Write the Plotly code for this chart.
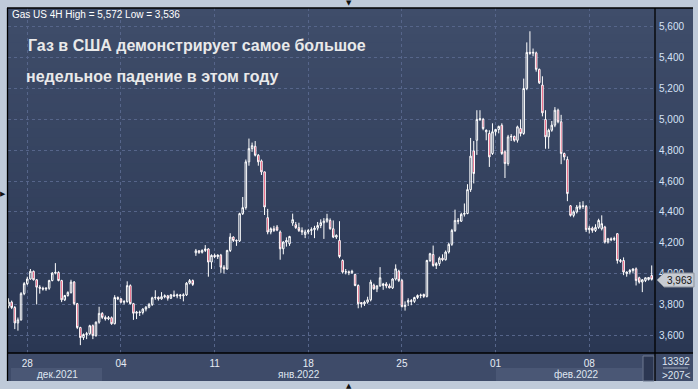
import plotly.graph_objects as go

# ---------------- data (4H candles) ----------------
OPEN = [3790, 3815, 3780, 3680, 3700, 3870, 3935, 3965, 4015, 3960,
        3912, 3905, 3900, 3905, 3955, 4003, 4008, 3955, 3830, 3858,
        3878, 3945, 3805, 3650, 3585, 3605, 3610, 3662, 3598, 3685,
        3742, 3716, 3706, 3714, 3675, 3845, 3836, 3815, 3818, 3922,
        3805, 3743, 3750, 3748, 3770, 3782, 3800, 3843, 3846, 3836,
        3850, 3856, 3840, 3862, 3855, 3862, 3856, 3862, 3938, 3955,
        4135, 4148, 4138, 4150, 4160, 4075, 4118, 4110, 4120, 4042,
        4030, 4150, 4237, 4215, 4212, 4389, 4428, 4725, 4811, 4826,
        4768, 4731, 4660, 4363, 4270, 4291, 4302, 4270, 4161, 4205,
        4194, 4328, 4317, 4298, 4280, 4254, 4270, 4280, 4285, 4295,
        4312, 4330, 4340, 4345, 4291, 4237, 4215, 4085, 4010, 4012,
        4006, 3994, 3923, 3812, 3804, 3815, 3830, 3925, 3901, 3920,
        3923, 3933, 3920, 3907, 3965, 4016, 3955, 3786, 3815, 3825,
        3820, 3845, 3858, 3865, 3852, 4085, 4124, 4053, 4065, 4100,
        4090, 4140, 4190, 4280, 4345, 4340, 4385, 4390, 4545, 4796,
        4865, 5000, 5000, 4920, 4909, 4779, 4920, 4935, 4962, 4790,
        4714, 4887, 4890, 4865, 4941, 4909, 5201, 5435, 5430, 5432,
        5325, 5223, 5000, 4887, 4930, 4963, 5060, 4985, 4779, 4740,
        4440, 4378, 4400, 4425, 4440, 4436, 4285, 4295, 4280, 4300,
        4291, 4302, 4205, 4226, 4222, 4259, 4085, 4085, 4000, 4010,
        4020, 4031, 3973, 3945, 3955, 3962, 3988]
HIGH = [3840, 3825, 3790, 3715, 3880, 3945, 3980, 4030, 4020, 3965,
        3925, 3915, 3912, 3960, 4010, 4068, 4015, 3960, 3862, 3885,
        3960, 3952, 3810, 3655, 3612, 3622, 3668, 3670, 3690, 3785,
        3750, 3728, 3725, 3722, 3860, 3852, 3842, 3828, 3950, 3930,
        3810, 3758, 3760, 3775, 3790, 3810, 3850, 3892, 3852, 3880,
        3865, 3862, 3868, 3890, 3870, 3868, 3872, 3945, 3965, 3962,
        4160, 4152, 4158, 4185, 4165, 4125, 4130, 4125, 4128, 4055,
        4155, 4262, 4242, 4222, 4395, 4497, 4740, 4876, 4850, 4860,
        4775, 4740, 4662, 4420, 4300, 4310, 4315, 4280, 4210, 4235,
        4245, 4389, 4335, 4330, 4300, 4285, 4290, 4300, 4310, 4335,
        4352, 4360, 4388, 4358, 4345, 4255, 4340, 4092, 4030, 4020,
        4025, 4000, 3930, 3815, 3825, 3850, 3960, 3935, 3925, 4042,
        3940, 3945, 3935, 3970, 4060, 4025, 3965, 3820, 3840, 3835,
        3850, 3865, 3870, 3870, 4090, 4135, 4182, 4075, 4110, 4125,
        4150, 4200, 4290, 4415, 4360, 4395, 4455, 4580, 4880, 4860,
        5060, 5060, 5010, 4935, 4930, 4975, 4935, 4960, 4975, 4800,
        4900, 4905, 4895, 4960, 5000, 5265, 5500, 5572, 5460, 5440,
        5330, 5280, 5060, 4940, 4990, 5080, 5070, 5030, 4785, 4760,
        4445, 4410, 4445, 4465, 4470, 4445, 4310, 4305, 4320, 4356,
        4378, 4310, 4232, 4235, 4240, 4262, 4095, 4105, 4015, 4030,
        4035, 4040, 3980, 3965, 3975, 3978, 4053]
LOW = [3775, 3770, 3640, 3630, 3695, 3860, 3925, 3960, 3955, 3800,
       3870, 3890, 3888, 3895, 3950, 3995, 3950, 3815, 3822, 3850,
       3870, 3795, 3640, 3536, 3570, 3575, 3600, 3575, 3590, 3675,
       3705, 3695, 3698, 3668, 3670, 3828, 3808, 3800, 3812, 3800,
       3700, 3705, 3725, 3735, 3755, 3775, 3790, 3830, 3825, 3830,
       3840, 3825, 3835, 3850, 3840, 3835, 3820, 3855, 3930, 3920,
       4115, 4128, 4130, 4140, 3980, 4030, 4100, 4095, 4005, 4000,
       4025, 4140, 4205, 4180, 4205, 4380, 4415, 4700, 4790, 4760,
       4700, 4640, 4380, 4255, 4255, 4270, 4275, 4090, 4125, 4175,
       4180, 4310, 4290, 4270, 4250, 4230, 4255, 4250, 4230, 4280,
       4295, 4225, 4330, 4285, 4230, 4225, 4100, 4000, 3995, 3990,
       3998, 3918, 3775, 3780, 3790, 3805, 3820, 3895, 3880, 3915,
       3895, 3905, 3905, 3900, 3955, 3945, 3780, 3760, 3790, 3795,
       3810, 3835, 3840, 3842, 3845, 4075, 4045, 4030, 4050, 4080,
       4085, 4130, 4180, 4270, 4320, 4335, 4370, 4385, 4530, 4585,
       4770, 4990, 4930, 4865, 4692, 4770, 4895, 4910, 4770, 4620,
       4700, 4860, 4855, 4850, 4890, 4900, 5190, 5420, 5410, 5310,
       5230, 5020, 4810, 4810, 4920, 4950, 4975, 4710, 4735, 4470,
       4370, 4365, 4390, 4415, 4420, 4270, 4260, 4265, 4270, 4290,
       4280, 4195, 4195, 4210, 4212, 4065, 4070, 3990, 3980, 3995,
       4005, 3923, 3935, 3880, 3945, 3955, 3955]
CLOSE = [3815, 3780, 3680, 3700, 3870, 3935, 3965, 4015, 3960, 3912,
         3905, 3900, 3905, 3955, 4003, 4008, 3955, 3830, 3858, 3878,
         3945, 3805, 3650, 3585, 3605, 3610, 3662, 3598, 3685, 3742,
         3716, 3706, 3714, 3675, 3845, 3836, 3815, 3818, 3922, 3805,
         3743, 3750, 3748, 3770, 3782, 3800, 3843, 3846, 3836, 3850,
         3856, 3840, 3862, 3855, 3862, 3856, 3862, 3938, 3955, 3930,
         4148, 4138, 4150, 4160, 4075, 4118, 4110, 4120, 4042, 4030,
         4150, 4237, 4215, 4212, 4389, 4428, 4725, 4811, 4830, 4768,
         4725, 4660, 4432, 4270, 4291, 4280, 4282, 4161, 4205, 4215,
         4241, 4350, 4298, 4280, 4270, 4270, 4280, 4285, 4295, 4312,
         4330, 4340, 4356, 4291, 4237, 4248, 4111, 4010, 4012, 4006,
         4015, 3923, 3804, 3804, 3815, 3830, 3945, 3901, 3920, 3973,
         3933, 3920, 3907, 3965, 4031, 3955, 3786, 3793, 3825, 3820,
         3845, 3858, 3860, 3852, 4085, 4129, 4053, 4065, 4100, 4090,
         4140, 4190, 4280, 4345, 4340, 4385, 4390, 4545, 4762, 4649,
         5000, 5004, 4941, 4930, 4757, 4920, 4935, 4955, 4779, 4714,
         4887, 4890, 4865, 4952, 4909, 5201, 5435, 5430, 5435, 5325,
         5238, 5043, 4887, 4930, 4963, 5060, 4985, 4779, 4757, 4519,
         4378, 4400, 4432, 4440, 4436, 4285, 4295, 4280, 4300, 4345,
         4324, 4205, 4226, 4220, 4228, 4085, 4080, 4010, 4010, 4020,
         4030, 3955, 3945, 3960, 3973, 3975, 3963]

X_TICK_POS = [6, 36, 66, 96, 126, 156, 186]
X_TICK_TEXT = ["28", "04", "11", "18", "25", "01", "08"]
MONTH_LABELS = ["дек.2021", "янв.2022", "фев.2022"]
Y_TICKS = [3600, 3800, 4000, 4200, 4400, 4600, 4800, 5000, 5200, 5400, 5600]
Y_TICK_TEXT = ["3,600", "3,800", "4,000", "4,200", "4,400", "4,600",
               "4,800", "5,000", "5,200", "5,400", "5,600"]
CAPTION = ["Газ в США демонстрирует самое большое",
           "недельное падение в этом году"]
SYMBOL = "Gas US 4H"
BAR_INFO = ["13392", ">207<"]

# ---------------- layout geometry (pixels) ----------------
W, H = 698, 389
PL, PT, PR, PB = 8, 8, 655, 353       # plot area
PANEL_R, PANEL_B = 693, 381          # whole dark panel


def px(x):
    return (x - PL) / (PR - PL)


def py(y):
    return (PB - y) / (PB - PT)


def lerp(c0, c1, t):
    return "rgb(%d,%d,%d)" % tuple(round(a + (b - a) * t) for a, b in zip(c0, c1))


FONT = "Liberation Sans, Arial, sans-serif"
n = len(CLOSE)
xs = list(range(n))

fig = go.Figure()
fig.add_trace(go.Candlestick(
    x=xs, open=OPEN, high=HIGH, low=LOW, close=CLOSE,
    increasing=dict(line=dict(color="#ffffff", width=1), fillcolor="rgba(0,0,0,0)"),
    decreasing=dict(line=dict(color="#ffffff", width=1), fillcolor="#e0123f"),
    whiskerwidth=0, hoverinfo="skip", showlegend=False,
))

shapes = []
# gradient panel background
N = 40
top_c, bot_c = (63, 77, 106), (42, 55, 83)
for k in range(N):
    y0 = PT + (PB - PT) * k / N
    y1 = PT + (PB - PT) * (k + 1) / N + 0.8
    shapes.append(dict(type="rect", xref="paper", yref="paper",
                       x0=px(PL), x1=px(PANEL_R), y0=py(min(y1, PB)), y1=py(y0),
                       fillcolor=lerp(top_c, bot_c, k / (N - 1)), line_width=0, layer="below"))
# bottom time strip
shapes.append(dict(type="rect", xref="paper", yref="paper", x0=px(PL), x1=px(PANEL_R),
                   y0=py(PANEL_B), y1=py(PB), fillcolor="#3e4b69", line_width=0, layer="below"))
# month boxes
for x0, x1 in [(11, 102), (496, 642)]:
    shapes.append(dict(type="rect", xref="paper", yref="paper", x0=px(x0), x1=px(x1),
                       y0=py(PANEL_B), y1=py(368), fillcolor="#4a5775", line_width=0, layer="below"))
# scroll thumb
shapes.append(dict(type="rect", xref="paper", yref="paper", x0=px(643), x1=px(654),
                   y0=py(PANEL_B), y1=py(356), fillcolor="#2c3752",
                   line=dict(color="#6f7b92", width=1), layer="above"))
# frame lines
for (x0, y0, x1, y1) in [(7, PT, PANEL_R, PT), (7.5, PT, 7.5, PANEL_B),
                         (PR, PT, PR, PANEL_B), (PL, PB, PANEL_R, PB)]:
    shapes.append(dict(type="line", xref="paper", yref="paper", x0=px(x0), x1=px(x1),
                       y0=py(y0), y1=py(y1), line=dict(color="#000000", width=1.3), layer="above"))
# bar-info separator
shapes.append(dict(type="line", xref="paper", yref="paper", x0=px(663), x1=px(688),
                   y0=py(368), y1=py(368), line=dict(color="#9aa5b8", width=1), layer="above"))
# last price tag
last = CLOSE[-1]
tag_y = 280
shapes.append(dict(type="path", xref="paper", yref="paper",
                   path="M %f %f L %f %f L %f %f L %f %f L %f %f Z" % (
                       px(657), py(tag_y), px(664), py(tag_y - 7), px(694), py(tag_y - 7),
                       px(694), py(tag_y + 7), px(664), py(tag_y + 7)),
                   fillcolor="#c8ccd3", line=dict(color="#8c929c", width=1), layer="above"))

ann = []
ann.append(dict(x=px(10), y=py(15), xref="paper", yref="paper", xanchor="left", yanchor="middle",
                text="%s High = %s Low = %s" % (SYMBOL, f"{max(HIGH):,}", f"{min(LOW):,}"),
                showarrow=False, font=dict(family=FONT, size=10, color="#ffffff")))
ann.append(dict(x=px(26), y=py(46), xref="paper", yref="paper", xanchor="left", yanchor="middle",
                text="<b>%s</b>" % CAPTION[0], showarrow=False,
                font=dict(family=FONT, size=16, color="#e9e9ea")))
ann.append(dict(x=px(24), y=py(76), xref="paper", yref="paper", xanchor="left", yanchor="middle",
                text="<b>%s</b>" % CAPTION[1], showarrow=False,
                font=dict(family=FONT, size=16, color="#e9e9ea")))
for lab, xc in zip(MONTH_LABELS, [57, 299, 576]):
    ann.append(dict(x=px(xc), y=py(374), xref="paper", yref="paper", xanchor="center", yanchor="middle",
                    text=lab, showarrow=False, font=dict(family=FONT, size=10, color="#dfe6f1")))
ann.append(dict(x=px(676), y=py(361), xref="paper", yref="paper", xanchor="center", yanchor="middle",
                text=BAR_INFO[0], showarrow=False, font=dict(family=FONT, size=10, color="#dfe6f1")))
ann.append(dict(x=px(676), y=py(375), xref="paper", yref="paper", xanchor="center", yanchor="middle",
                text=BAR_INFO[1], showarrow=False, font=dict(family=FONT, size=10, color="#dfe6f1")))
ann.append(dict(x=px(679), y=py(tag_y), xref="paper", yref="paper", xanchor="center", yanchor="middle",
                text=f"{last:,}", showarrow=False, font=dict(family=FONT, size=10, color="#111111")))
for sym, xx, yy in [("▼", 349, 3), ("▶", 3, 194), ("▲", 349, 386)]:
    ann.append(dict(x=px(xx), y=py(yy), xref="paper", yref="paper", xanchor="center", yanchor="middle",
                    text=sym, showarrow=False, font=dict(family="DejaVu Sans", size=7, color="#111111")))

grid = dict(showgrid=True, gridcolor="#56658a", gridwidth=1, griddash="3px,3px", zeroline=False,
            showline=False)
fig.update_layout(
    width=W, height=H,
    margin=dict(l=PL, r=W - PR, t=PT, b=H - PB),
    paper_bgcolor="#bfcad9", plot_bgcolor="rgba(0,0,0,0)",
    shapes=shapes, annotations=ann, showlegend=False,
    xaxis=dict(range=[-0.18, 207.06], tickvals=X_TICK_POS, ticktext=X_TICK_TEXT,
               rangeslider=dict(visible=False), ticks="", ticklabelstandoff=3,
               tickfont=dict(family=FONT, size=10, color="#e6ecf5"), fixedrange=True, **grid),
    yaxis=dict(range=[3485, 5723], side="right", tickvals=Y_TICKS, ticktext=Y_TICK_TEXT,
               ticks="", ticklabelstandoff=3,
               tickfont=dict(family=FONT, size=10, color="#d6e2f6"), fixedrange=True, **grid),
)

fig.write_html("out.html")
